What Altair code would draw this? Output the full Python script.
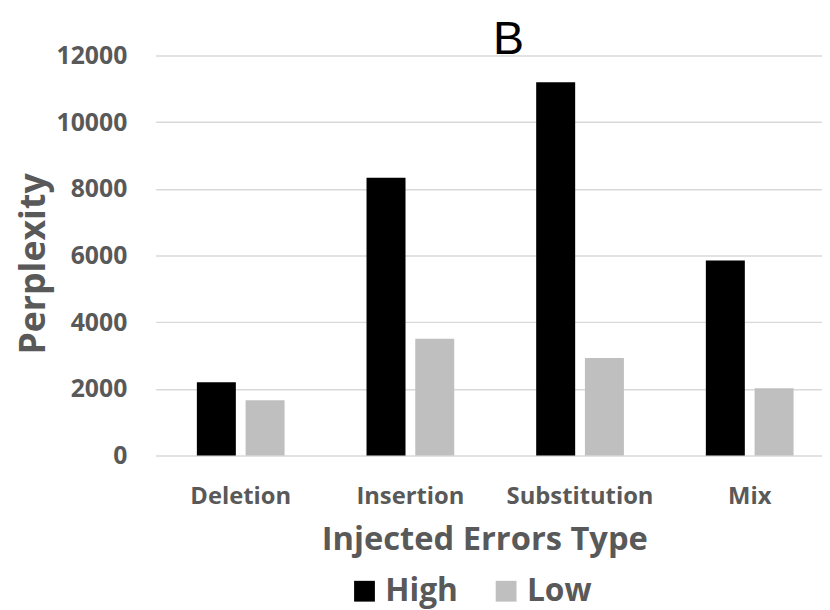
import altair as alt
import pandas as pd

categories = ["Deletion", "Insertion", "Substitution", "Mix"]
high_values = [2200, 8330, 11200, 5850]
low_values = [1660, 3500, 2930, 2020]
series = ["High", "Low"]
y_ticks = [0, 2000, 4000, 6000, 8000, 10000, 12000]

rows = []
for c, h, l in zip(categories, high_values, low_values):
    rows.append({"type": c, "level": "High", "value": h})
    rows.append({"type": c, "level": "Low", "value": l})
df = pd.DataFrame(rows)

FONT = "Open Sans"
TXT = "#595959"

chart = alt.Chart(df).mark_bar().encode(
    x=alt.X(
        "type:N",
        sort=categories,
        scale=alt.Scale(range=[2, 688], paddingInner=0.483, paddingOuter=0.2435),
        axis=alt.Axis(
            title="Injected Errors Type",
            labelAngle=0,
            labelFont=FONT,
            labelFontWeight="bold",
            labelFontSize=24,
            labelColor=TXT,
            labelPadding=29,
            titleFont=FONT,
            titleFontWeight="bold",
            titleFontSize=33,
            titleColor=TXT,
            titlePadding=16,
            titleX=334,
            domain=False,
            ticks=False,
            grid=False,
        ),
    ),
    xOffset=alt.XOffset(
        "level:N", sort=series, scale=alt.Scale(paddingInner=0.2, paddingOuter=0)
    ),
    y=alt.Y(
        "value:Q",
        scale=alt.Scale(domain=[0, 12000], nice=False),
        axis=alt.Axis(
            title="Perplexity",
            values=y_ticks,
            format="d",
            labelFont=FONT,
            labelFontWeight="bold",
            labelFontSize=25,
            labelColor=TXT,
            labelPadding=27,
            titleFont=FONT,
            titleFontWeight="bold",
            titleFontSize=36,
            titleColor=TXT,
            titlePadding=4,
            titleY=210,
            domain=False,
            ticks=False,
            grid=True,
            gridColor="#D9D9D9",
            gridWidth=1.5,
        ),
    ),
    color=alt.Color(
        "level:N",
        sort=series,
        scale=alt.Scale(domain=series, range=["#000000", "#BFBFBF"]),
        legend=alt.Legend(
            title=None,
            orient="none",
            legendX=197,
            legendY=525,
            direction="horizontal",
            symbolType="square",
            symbolSize=441,
            symbolStrokeWidth=0,
            labelFont=FONT,
            labelFontWeight="bold",
            labelFontSize=32,
            labelColor=TXT,
            labelOffset=5,
            columnPadding=32,
        ),
    ),
).properties(
    width=675,
    height=404,
    autosize=alt.AutoSizeParams(type="none"),
    padding={"left": 147, "top": 45, "right": 0, "bottom": 153},
    title=alt.TitleParams(
        "B",
        font="Liberation Sans",
        fontSize=47,
        fontWeight="normal",
        color="#000000",
        anchor="middle",
        dx=21,
        offset=-20,
    ),
).configure_view(stroke=None)

chart.save("out.html", embed_options={"renderer": "svg", "actions": False})
